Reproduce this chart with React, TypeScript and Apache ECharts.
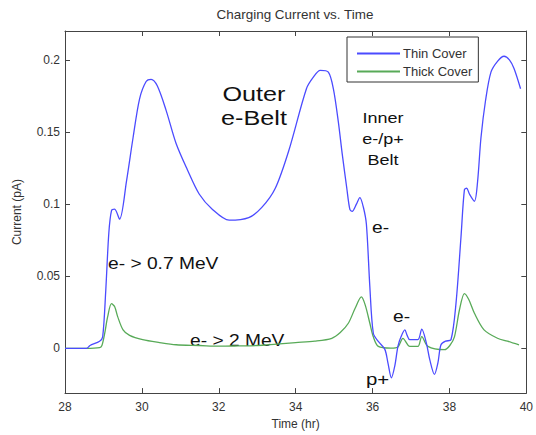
import React, { useEffect, useRef } from "react";
import * as echarts from "echarts";

const thinTimes = [28, 28.56, 28.65, 28.9, 28.98, 29.06, 29.14, 29.21, 29.29, 29.42, 29.6, 29.77, 29.94, 30.11, 30.24, 30.4, 30.63, 30.89, 31.18, 31.49, 31.83, 32.27, 32.78, 33.12, 33.47, 33.82, 34.28, 34.46, 34.64, 34.85, 34.98, 35.11, 35.21, 35.33, 35.41, 35.47, 35.58, 35.67, 35.76, 35.84, 35.93, 36.02, 36.15, 36.32, 36.4, 36.49, 36.58, 36.66, 36.74, 36.84, 36.9, 36.97, 37.18, 37.28, 37.4, 37.49, 37.61, 37.7, 37.78, 37.9, 38.04, 38.17, 38.3, 38.39, 38.45, 38.52, 38.65, 38.73, 38.82, 38.94, 39.08, 39.25, 39.42, 39.56, 39.68, 39.85];
const thinValues = [0, 0, 0.002, 0.005, 0.008, 0.04, 0.08, 0.0955, 0.0965, 0.0896, 0.116, 0.146, 0.173, 0.185, 0.1865, 0.182, 0.165, 0.142, 0.124, 0.107, 0.0965, 0.0889, 0.0907, 0.0977, 0.111, 0.137, 0.18, 0.188, 0.1927, 0.1915, 0.18, 0.157, 0.135, 0.111, 0.0964, 0.095, 0.1, 0.1045, 0.098, 0.086, 0.0426, 0.0105, 0.0048, -0.0007, -0.01, -0.0204, -0.012, 0.0014, 0.008, 0.0128, 0.009, 0.006, 0.006, 0.0133, 0.0037, -0.008, -0.018, -0.01, 0.0025, 0.005, 0.006, 0.031, 0.077, 0.11, 0.111, 0.107, 0.102, 0.115, 0.146, 0.172, 0.1915, 0.199, 0.2025, 0.2, 0.194, 0.18];

const thickTimes = [28, 28.54, 28.9, 28.96, 29.03, 29.11, 29.21, 29.29, 29.37, 29.51, 29.68, 30.02, 30.46, 30.89, 31.5, 32, 32.5, 33, 33.5, 34, 34.5, 34.94, 35.16, 35.37, 35.55, 35.71, 35.81, 35.93, 36.02, 36.15, 36.48, 36.66, 36.79, 36.97, 37.18, 37.28, 37.44, 37.87, 38.01, 38.13, 38.26, 38.39, 38.5, 38.65, 38.9, 39.25, 39.51, 39.81];
const thickValues = [0, 0, 0.0005, 0.002, 0.01, 0.022, 0.031, 0.029, 0.022, 0.0128, 0.009, 0.006, 0.004, 0.0025, 0.002, 0.0015, 0.0017, 0.002, 0.003, 0.004, 0.005, 0.007, 0.011, 0.0174, 0.028, 0.0357, 0.03, 0.0174, 0.008, 0.0014, 0.0002, 0.001, 0.007, 0.0014, 0.0014, 0.0082, 0.0014, -0.0009, 0.002, 0.008, 0.0266, 0.038, 0.034, 0.0243, 0.0128, 0.007, 0.005, 0.0025];

const xTicks = [28, 30, 32, 34, 36, 38, 40];
const yTicks = [0, 0.05, 0.1, 0.15, 0.2];
const seriesNames = ["Thin Cover", "Thick Cover"];

const FONT = "'Liberation Sans', Arial, Helvetica, sans-serif";
const BLUE = "#4b4bff";
const GREEN = "#58aa58";
const SX = 1.2;

export default function App() {
  const ref = useRef<HTMLDivElement>(null);
  useEffect(() => {
    const chart = echarts.init(ref.current!, null, { renderer: "svg" });
    const pair = (t: number[], v: number[]) => t.map((x, i) => [x, v[i]]);
    const axisCommon = {
      type: "value" as const,
      axisLine: { show: true, onZero: false, lineStyle: { color: "#444", width: 1 } },
      splitLine: { show: false },
    };
    const tick = { show: true, inside: true, length: 5, lineStyle: { color: "#444" } };
    const fmtY = (v: number) => String(+v.toFixed(2));
    chart.setOption({
      animation: false,
      backgroundColor: "#fff",
      textStyle: { fontFamily: FONT },
      grid: { left: 65, right: 7, top: 31, bottom: 37, containLabel: false },
      legend: {
        data: seriesNames,
        orient: "vertical",
        left: 347,
        top: 37,
        padding: [10, 6, 4, 10],
        itemGap: 5,
        itemWidth: 43,
        itemHeight: 2,
        icon: "rect",
        borderColor: "#333",
        borderWidth: 1,
        backgroundColor: "#fff",
        textStyle: { fontFamily: FONT, fontSize: 13, color: "#333", padding: [0, 0, 0, -2] },
      },
      xAxis: [
        {
          ...axisCommon,
          min: 28,
          max: 40,
          interval: 2,
          position: "bottom",
          name: "Time (hr)",
          nameLocation: "middle",
          nameGap: 22,
          nameTextStyle: { fontFamily: FONT, fontSize: 12, color: "#333" },
          axisTick: tick,
          axisLabel: { fontFamily: FONT, fontSize: 12, color: "#333", margin: 8, formatter: (v: number) => String(v), customValues: xTicks },
        },
        {
          ...axisCommon,
          min: 28,
          max: 40,
          interval: 2,
          position: "top",
          axisTick: tick,
          axisLabel: { show: false },
        },
      ],
      yAxis: [
        {
          ...axisCommon,
          min: -0.031,
          max: 0.22,
          position: "left",
          name: "Current (pA)",
          nameLocation: "middle",
          nameGap: 42,
          nameRotate: 90,
          nameTextStyle: { fontFamily: FONT, fontSize: 12, color: "#333" },
          axisTick: { ...tick, customValues: yTicks },
          axisLabel: { fontFamily: FONT, fontSize: 12, color: "#333", margin: 5, formatter: fmtY, customValues: yTicks },
        },
        {
          ...axisCommon,
          min: -0.031,
          max: 0.22,
          position: "right",
          axisTick: { ...tick, customValues: yTicks },
          axisLabel: { show: false },
        },
      ],
      series: [
        {
          name: seriesNames[0],
          type: "line",
          data: pair(thinTimes, thinValues),
          showSymbol: false,
          symbol: "none",
          smooth: 0.3,
          lineStyle: { color: BLUE, width: 1.3 },
          itemStyle: { color: BLUE },
          z: 3,
        },
        {
          name: seriesNames[1],
          type: "line",
          data: pair(thickTimes, thickValues),
          showSymbol: false,
          symbol: "none",
          smooth: 0.3,
          lineStyle: { color: GREEN, width: 1.3 },
          itemStyle: { color: GREEN },
          z: 2,
        },
      ],
      graphic: [
        { type: "text", x: 295, y: 9, scaleX: 1.12, style: { text: "Charging Current vs. Time", font: `12px ${FONT}`, fill: "#333", align: "center" } },
        { type: "text", x: 254, y: 82, scaleX: SX, style: { text: "Outer\ne-Belt", font: `21px ${FONT}`, fill: "#111", align: "center", lineHeight: 24 } },
        { type: "text", x: 383, y: 108, scaleX: SX, style: { text: "Inner\ne-/p+\nBelt", font: `15px ${FONT}`, fill: "#111", align: "center", lineHeight: 21 } },
        { type: "text", x: 372, y: 220, scaleX: SX, style: { text: "e-", font: `16px ${FONT}`, fill: "#111" } },
        { type: "text", x: 108, y: 256, scaleX: SX, style: { text: "e- > 0.7 MeV", font: `16px ${FONT}`, fill: "#111" } },
        { type: "text", x: 190, y: 333, scaleX: SX, style: { text: "e- > 2 MeV", font: `16px ${FONT}`, fill: "#111" } },
        { type: "text", x: 393, y: 309, scaleX: SX, style: { text: "e-", font: `16px ${FONT}`, fill: "#111" } },
        { type: "text", x: 366, y: 371, scaleX: SX, style: { text: "p+", font: `17px ${FONT}`, fill: "#111" } },
      ],
    });
    return () => chart.dispose();
  }, []);
  return <div ref={ref} style={{ position: "fixed", left: 0, top: 0, width: 536, height: 435 }} />;
}
